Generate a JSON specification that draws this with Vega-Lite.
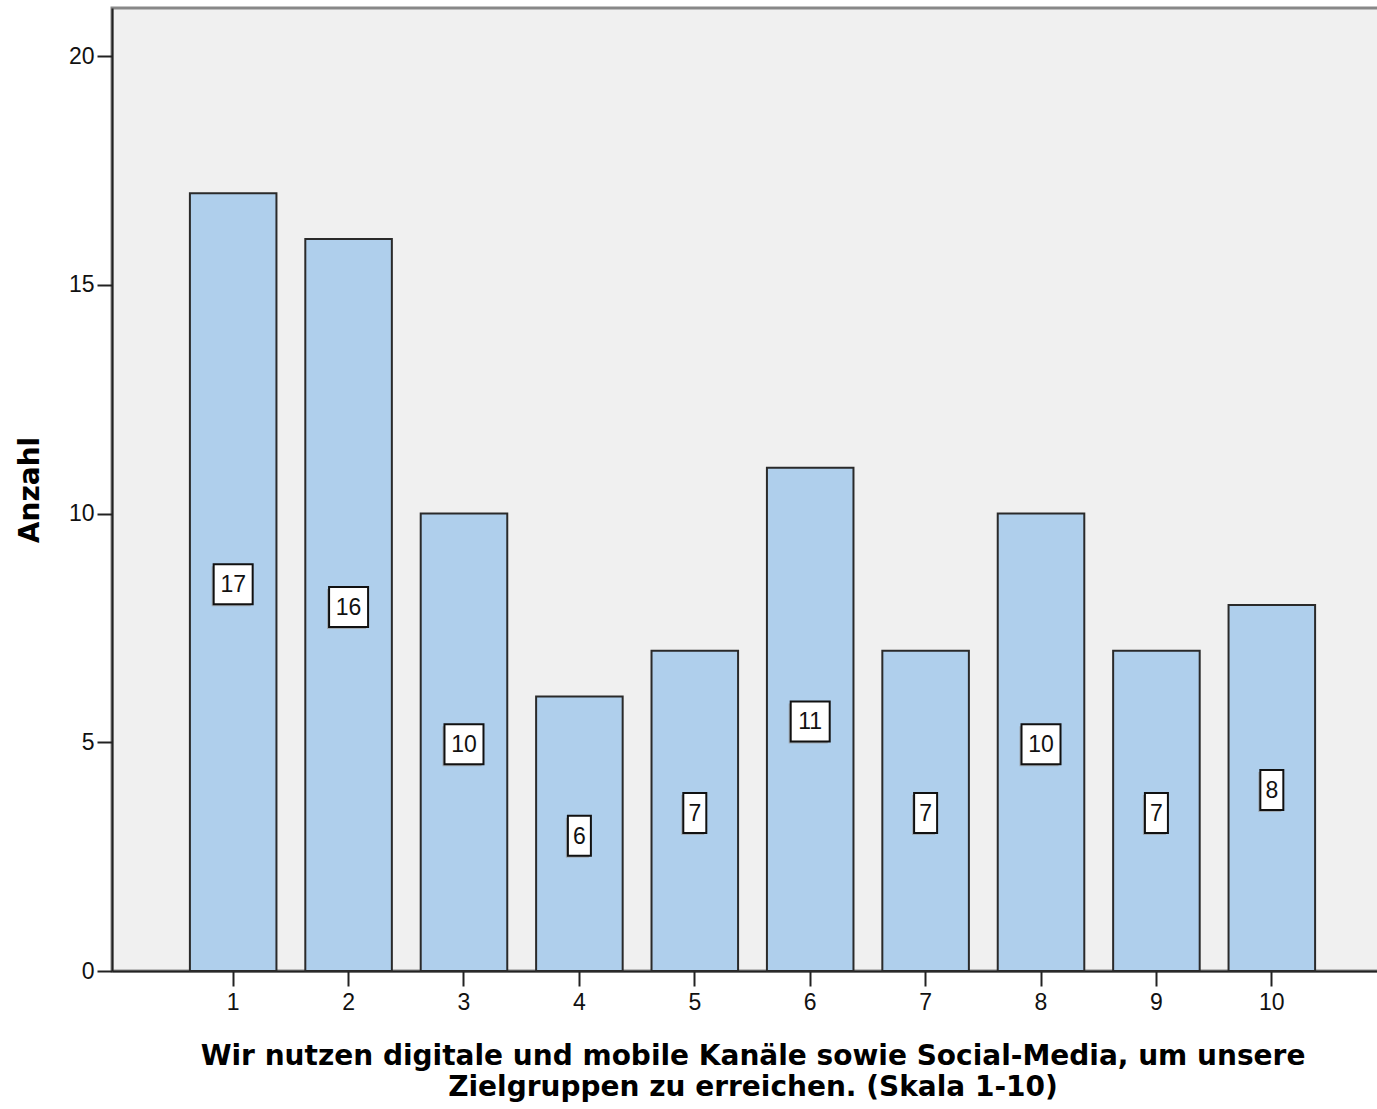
{
  "$schema": "https://vega.github.io/schema/vega-lite/v6.json",
  "autosize": {"type": "none"},
  "padding": {"left": 112, "top": 8, "right": 0, "bottom": 140},
  "width": 1281,
  "height": 963,
  "background": "white",
  "config": {
    "font": "Liberation Sans",
    "view": {"fill": "#F0F0F0", "stroke": "#888888", "strokeWidth": 3}
  },
  "data": {
    "values": [
      {"skala": "1", "anzahl": 17},
      {"skala": "2", "anzahl": 16},
      {"skala": "3", "anzahl": 10},
      {"skala": "4", "anzahl": 6},
      {"skala": "5", "anzahl": 7},
      {"skala": "6", "anzahl": 11},
      {"skala": "7", "anzahl": 7},
      {"skala": "8", "anzahl": 10},
      {"skala": "9", "anzahl": 7},
      {"skala": "10", "anzahl": 8}
    ]
  },
  "transform": [{"calculate": "datum.anzahl / 2", "as": "mitte"}],
  "encoding": {
    "x": {
      "field": "skala",
      "type": "ordinal",
      "sort": null,
      "scale": {"paddingInner": 0.25, "paddingOuter": 0.675},
      "axis": {
        "title": ["Wir nutzen digitale und mobile Kanäle sowie Social-Media, um unsere", "Zielgruppen zu erreichen. (Skala 1-10)"],
        "titleFont": "DejaVu Sans",
        "titleFontSize": 28,
        "titleFontWeight": "bold",
        "titleColor": "black",
        "titleLineHeight": 31,
        "titleBaseline": "top",
        "titleX": 640.5,
        "titleY": 71,
        "titleAnchor": "middle",
        "labelAngle": 0,
        "labelFontSize": 23,
        "labelColor": "#111111",
        "labelPadding": 5,
        "tickSize": 15,
        "tickWidth": 2,
        "tickColor": "#222222",
        "domainColor": "#222222",
        "domainWidth": 2
      }
    }
  },
  "layer": [
    {
      "mark": {"type": "bar", "fill": "#AFCFEC", "stroke": "#2A2A2A", "strokeWidth": 2},
      "encoding": {
        "y": {
          "field": "anzahl",
          "type": "quantitative",
          "scale": {"domain": [0, 21.05], "nice": false},
          "axis": {
            "title": "Anzahl",
            "titleFont": "DejaVu Sans",
            "titleFontSize": 28,
            "titleFontWeight": "bold",
            "titleColor": "black",
            "titleX": -82,
            "titleY": 481.5,
            "titleAlign": "center",
            "titleBaseline": "middle",
            "titleAngle": -90,
            "values": [0, 5, 10, 15, 20],
            "grid": false,
            "labelFontSize": 23,
            "labelColor": "#111111",
            "labelPadding": 3,
            "tickSize": 15,
            "tickWidth": 2,
            "tickColor": "#222222",
            "domainColor": "#222222",
            "domainWidth": 2
          }
        }
      }
    },
    {
      "mark": {"type": "point", "filled": true, "fill": "#9A9A9A", "strokeWidth": 0, "opacity": 0.7, "size": 1600, "xOffset": -2, "yOffset": 4},
      "encoding": {
        "y": {"field": "mitte", "type": "quantitative"},
        "shape": {
          "condition": {"test": "datum.anzahl >= 10", "value": "M-0.975,-1H0.975V1H-0.975Z"},
          "value": "M-0.575,-1H0.575V1H-0.575Z"
        }
      }
    },
    {
      "mark": {"type": "point", "filled": true, "fill": "white", "stroke": "#111111", "strokeWidth": 2, "opacity": 1, "size": 1600, "yOffset": 2},
      "encoding": {
        "y": {"field": "mitte", "type": "quantitative"},
        "shape": {
          "condition": {"test": "datum.anzahl >= 10", "value": "M-0.975,-1H0.975V1H-0.975Z"},
          "value": "M-0.575,-1H0.575V1H-0.575Z"
        }
      }
    },
    {
      "mark": {"type": "text", "fontSize": 23, "color": "#111111", "baseline": "middle", "align": "center", "yOffset": 3},
      "encoding": {
        "y": {"field": "mitte", "type": "quantitative"},
        "text": {"field": "anzahl", "type": "quantitative"}
      }
    }
  ]
}
